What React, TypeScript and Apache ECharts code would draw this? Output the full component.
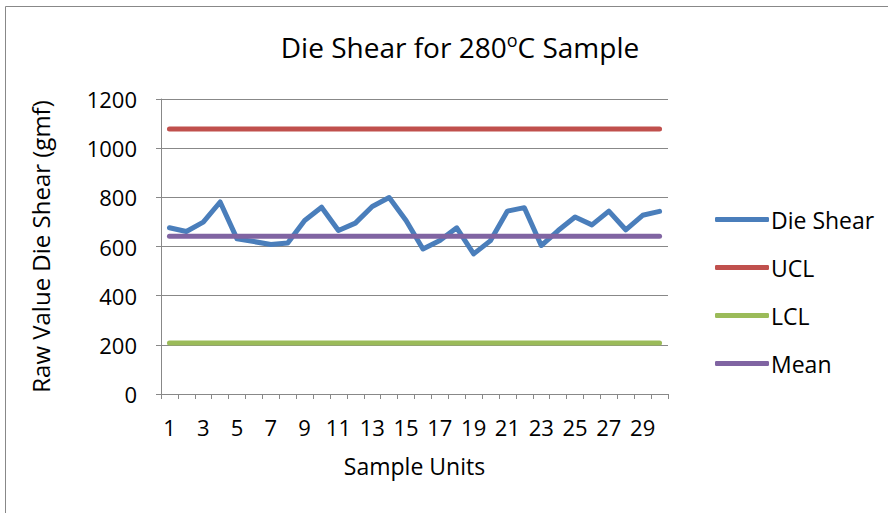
import React, { useEffect, useRef } from "react";
import * as echarts from "echarts";

const categories = Array.from({ length: 30 }, (_, i) => String(i + 1));
const dieShear = [676, 661, 699, 781, 631, 620, 608, 614, 706, 760, 665, 695, 763, 799, 706, 590, 624, 676, 570, 624, 744, 758, 604, 665, 720, 688, 744, 668, 727, 743];
const uclValue = 1078;
const lclValue = 207;
const meanValue = 642;
const ucl = categories.map(() => uclValue);
const lcl = categories.map(() => lclValue);
const mean = categories.map(() => meanValue);
const yTicks = [0, 200, 400, 600, 800, 1000, 1200];

const FONT = "Open Sans";

export default function App() {
  const ref = useRef<HTMLDivElement>(null);
  useEffect(() => {
    const chart = echarts.init(ref.current!, null, { renderer: "svg" });
    const lineSeries = (name: string, data: number[], color: string) => ({
      name,
      type: "line",
      data,
      showSymbol: false,
      symbol: "none",
      lineStyle: { color, width: 5, cap: "round", join: "round" },
      itemStyle: { color },
    });
    chart.setOption({
      animation: false,
      backgroundColor: "#ffffff",
      textStyle: { fontFamily: FONT },
      title: {
        text: "Die Shear for 280{sup|o}C Sample",
        left: 455,
        top: 26,
        textAlign: "center",
        textStyle: {
          fontFamily: FONT,
          fontSize: 28,
          fontWeight: "normal",
          color: "#000",
          rich: {
            sup: { fontSize: 18, fontFamily: FONT, color: "#000", verticalAlign: "top", padding: [0, 0, 13, 0] },
          },
        },
      },
      graphic: [
        {
          type: "rect",
          shape: { x: 5.5, y: 6.5, width: 900, height: 520 },
          style: { fill: "none", stroke: "#888", lineWidth: 1 },
          silent: true,
          z: 100,
        },
      ],
      legend: {
        orient: "vertical",
        left: 710,
        top: 203,
        itemGap: 25,
        itemWidth: 54,
        itemHeight: 5,
        icon: "roundRect",
        textStyle: { fontFamily: FONT, fontSize: 23, color: "#000", padding: [0, 0, 0, -3] },
        data: ["Die Shear", "UCL", "LCL", "Mean"],
      },
      grid: { left: 161, right: 220, top: 99, bottom: 119 },
      xAxis: {
        type: "category",
        data: categories,
        boundaryGap: true,
        name: "Sample Units",
        nameLocation: "middle",
        nameGap: 60,
        nameTextStyle: { fontFamily: FONT, fontSize: 23, color: "#000" },
        axisLine: { lineStyle: { color: "#888", width: 1 } },
        axisTick: { show: true, length: 5, alignWithLabel: false, interval: 0, lineStyle: { color: "#888" } },
        axisLabel: { interval: 1, fontFamily: FONT, fontSize: 22, color: "#000", margin: 22 },
        splitLine: { show: false },
      },
      yAxis: {
        type: "value",
        min: yTicks[0],
        max: yTicks[yTicks.length - 1],
        interval: yTicks[1] - yTicks[0],
        name: "Raw Value Die Shear (gmf)",
        nameLocation: "middle",
        nameGap: 109,
        nameTextStyle: { fontFamily: FONT, fontSize: 24, color: "#000" },
        axisLine: { show: true, lineStyle: { color: "#888", width: 1 } },
        axisTick: { show: true, length: 5, lineStyle: { color: "#888" } },
        axisLabel: { fontFamily: FONT, fontSize: 22, color: "#000", margin: 24, formatter: (v: number) => String(v) },
        splitLine: { show: true, lineStyle: { color: "#888", width: 1 } },
      },
      series: [
        lineSeries("Die Shear", dieShear, "#4A7EBB"),
        lineSeries("UCL", ucl, "#C0504D"),
        lineSeries("LCL", lcl, "#9BBB59"),
        lineSeries("Mean", mean, "#8064A2"),
      ],
    });
    return () => chart.dispose();
  }, []);
  return (
    <div
      ref={ref}
      style={{ position: "absolute", left: 0, top: 0, width: 888, height: 513 }}
    />
  );
}
